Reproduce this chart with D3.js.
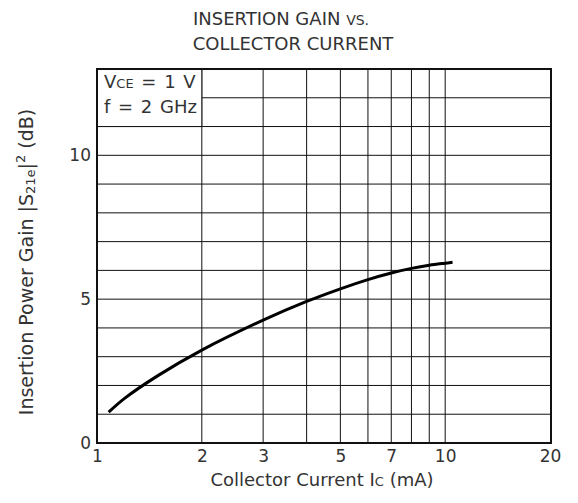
<!DOCTYPE html>
<html><head><meta charset="utf-8">
<script src="https://cdn.jsdelivr.net/npm/d3@7"></script>
<style>body{margin:0;background:#fff}svg{display:block}text{font-family:"DejaVu Sans",sans-serif;fill:#333}</style>
</head><body><svg id="c" width="578" height="503"></svg>
<script>
const currentIc = [1.08, 1.2, 1.5, 2, 3, 4, 5, 6, 7, 8, 9, 10, 10.5];
const gainDb    = [1.07, 1.55, 2.35, 3.23, 4.27, 4.92, 5.36, 5.68, 5.91, 6.07, 6.18, 6.25, 6.28];
const xTickLabels = [1, 2, 3, 5, 7, 10, 20];
const xGrid = [2, 3, 4, 5, 6, 7, 8, 9, 10];
const yTickLabels = [0, 5, 10];
const yGrid = [1,2,3,4,5,6,7,8,9,10,11,12];

const FONT = "DejaVu Sans, sans-serif";
const svg = d3.select("#c");
const L = 97, R = 551, T = 69, B = 443;
const x = d3.scaleLog().domain([1, 20]).range([L, R - 1]);
const y = d3.scaleLinear().domain([0, 13]).range([B, T]);

const g = svg.append("g");
g.selectAll(".vg").data(xGrid).enter().append("line")
  .attr("x1", d => x(d)).attr("x2", d => x(d)).attr("y1", B).attr("y2", T)
  .attr("stroke", "#111").attr("stroke-width", 1);
g.selectAll(".hg").data(yGrid).enter().append("line")
  .attr("x1", L).attr("x2", R).attr("y1", d => y(d)).attr("y2", d => y(d))
  .attr("stroke", "#111").attr("stroke-width", 1);

// legend box
g.append("rect").attr("x", L).attr("y", T).attr("width", x(2) - L).attr("height", y(11) - T)
  .attr("fill", "#fff").attr("stroke", "#111").attr("stroke-width", 1);

g.append("rect").attr("x", L).attr("y", T).attr("width", R - L).attr("height", B - T)
  .attr("fill", "none").attr("stroke", "#111").attr("stroke-width", 2);

const line = d3.line().x((d, i) => x(currentIc[i])).y(d => y(d)).curve(d3.curveCatmullRom.alpha(0.5));
g.append("path").datum(gainDb).attr("d", line).attr("fill", "none")
  .attr("stroke", "#000").attr("stroke-width", 3);

// axes
const xAxis = d3.axisBottom(x).tickValues(xTickLabels).tickFormat(d3.format("d")).tickSize(0).tickPadding(7);
const xa = svg.append("g").attr("transform", `translate(0,${B})`).call(xAxis);
xa.select(".domain").remove();
xa.selectAll("text").style("font-size", "17px").style("font-family", FONT).attr("fill", "#333");

const yAxis = d3.axisLeft(y).tickValues(yTickLabels).tickFormat(d3.format("d")).tickSize(0).tickPadding(6);
const ya = svg.append("g").attr("transform", `translate(${L},0)`).call(yAxis);
ya.select(".domain").remove();
ya.selectAll("text").style("font-size", "17px").style("font-family", FONT).attr("fill", "#333");

// legend text
const lg1 = svg.append("text").attr("x", 104).attr("y", 88).style("font-size", "18px").style("word-spacing", "2px");
lg1.append("tspan").text("V");
lg1.append("tspan").style("font-size", "13px").text("CE");
lg1.append("tspan").text(" = 1 V");
svg.append("text").attr("x", 104).attr("y", 113).style("font-size", "18px").style("word-spacing", "2px").text("f = 2 GHz");

// title
const t1 = svg.append("text").attr("x", 281).attr("y", 25).attr("text-anchor", "middle").style("font-size", "18px");
t1.append("tspan").text("INSERTION GAIN ");
t1.append("tspan").style("font-size", "14px").text("VS.");
svg.append("text").attr("x", 293).attr("y", 50).attr("text-anchor", "middle").style("font-size", "18px").text("COLLECTOR CURRENT");

// x title
const xt = svg.append("text").attr("x", 322).attr("y", 486).attr("text-anchor", "middle").style("font-size", "18px");
xt.append("tspan").text("Collector Current I");
xt.append("tspan").style("font-size", "13px").text("C");
xt.append("tspan").text(" (mA)");

// y title
const yt = svg.append("text").attr("transform", "translate(33,262) rotate(-90)").attr("text-anchor", "middle").style("font-size", "19px");
yt.append("tspan").text("Insertion Power Gain |S");
yt.append("tspan").style("font-size", "13px").attr("dy", 2).text("21e");
yt.append("tspan").attr("dy", -2).text("|");
yt.append("tspan").style("font-size", "13px").attr("dy", -8).text("2");
yt.append("tspan").attr("dy", 8).text(" (dB)");
</script></body></html>
